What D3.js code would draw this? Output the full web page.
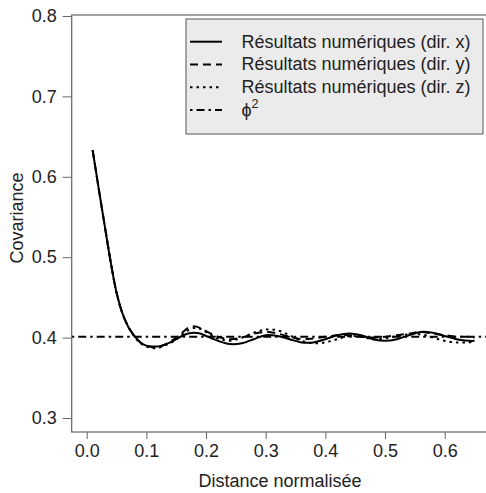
<!DOCTYPE html>
<html>
<head>
<meta charset="utf-8">
<script src="https://cdn.jsdelivr.net/npm/d3@7"></script>
<style>
  body { margin: 0; background: #fff; }
  text { font-family: "Liberation Sans", Arial, sans-serif; fill: #222; }
</style>
</head>
<body>
<div id="chart"></div>
<script>
const W = 486, H = 493

const SVG = d3.select("#chart")
    .append("svg")
    .attr("width", W)
    .attr("height", H)

// plot region (right edge runs off the picture)
const BOX = {left: 71.7, top: 15, bottom: 432, right: 510}

// shared abscissa
const dist = [0.01, 0.02, 0.03, 0.04, 0.05, 0.06, 0.07, 0.08, 0.09, 0.10,
    0.11, 0.12, 0.13, 0.14, 0.15, 0.16, 0.17, 0.18, 0.19, 0.20,
    0.22, 0.24, 0.26, 0.28, 0.30, 0.32, 0.34, 0.36, 0.38, 0.40,
    0.42, 0.44, 0.46, 0.48, 0.50, 0.52, 0.54, 0.56, 0.58, 0.60,
    0.62, 0.64, 0.65]

const covX = [0.633, 0.586, 0.540, 0.495, 0.456, 0.430, 0.413, 0.402, 0.394, 0.390,
    0.389, 0.389, 0.391, 0.394, 0.398, 0.402, 0.405, 0.406, 0.405, 0.402,
    0.396, 0.392, 0.393, 0.398, 0.403, 0.402, 0.398, 0.394, 0.394, 0.398,
    0.403, 0.405, 0.403, 0.398, 0.396, 0.398, 0.403, 0.407, 0.406, 0.402,
    0.398, 0.396, 0.396]

const covY = [0.633, 0.586, 0.540, 0.495, 0.456, 0.430, 0.413, 0.402, 0.394, 0.390,
    0.388, 0.388, 0.391, 0.395, 0.400, 0.406, 0.412, 0.414, 0.412, 0.408,
    0.401, 0.398, 0.400, 0.405, 0.407, 0.405, 0.401, 0.398, 0.399, 0.401,
    0.403, 0.403, 0.401, 0.400, 0.401, 0.403, 0.405, 0.407, 0.405, 0.403,
    0.401, 0.401, 0.400]

const covZ = [0.633, 0.586, 0.540, 0.495, 0.456, 0.430, 0.413, 0.401, 0.393, 0.389,
    0.387, 0.387, 0.390, 0.393, 0.398, 0.404, 0.409, 0.412, 0.411, 0.407,
    0.399, 0.396, 0.400, 0.406, 0.410, 0.409, 0.403, 0.396, 0.393, 0.394,
    0.398, 0.402, 0.401, 0.398, 0.399, 0.402, 0.404, 0.404, 0.400, 0.396,
    0.394, 0.394, 0.395]

const phi2 = 0.401

const xTicks = [0, 0.1, 0.2, 0.3, 0.4, 0.5, 0.6]
const yTicks = [0.3, 0.4, 0.5, 0.6, 0.7, 0.8]

const legendLabels = ["Résultats numériques (dir. x)", "Résultats numériques (dir. y)",
    "Résultats numériques (dir. z)", "\u03D5"]

const dashes = ["none", "8,5", "2.5,4", "2.5,4,8,4"]

const xScale = d3.scaleLinear()
    .domain([0, 0.6])
    .range([86.7, 444.7])

const yScale = d3.scaleLinear()
    .domain([0.3, 0.8])
    .range([418, 16])

const FS = 18

// axes
const yAxis = d3.axisLeft(yScale).tickValues(yTicks).tickSize(9).tickPadding(6)
    .tickFormat(d3.format(".1f"))
const xAxis = d3.axisBottom(xScale).tickValues(xTicks).tickSize(7).tickPadding(5)
    .tickFormat(d3.format(".1f"))

const gy = SVG.append("g")
    .attr("transform", `translate(${BOX.left}, 0)`)
    .call(yAxis)
gy.select(".domain").remove()

const gx = SVG.append("g")
    .attr("transform", `translate(0, ${BOX.bottom})`)
    .call(xAxis)
gx.select(".domain").remove()

SVG.selectAll(".tick line").attr("stroke", "#666")
SVG.selectAll(".tick text")
    .attr("font-size", FS)
    .attr("font-family", "Liberation Sans, Arial, sans-serif")
    .attr("fill", "#222")

// clip for the data
SVG.append("clipPath").attr("id", "plotclip")
    .append("rect")
    .attr("x", BOX.left)
    .attr("y", BOX.top)
    .attr("width", BOX.right - BOX.left)
    .attr("height", BOX.bottom - BOX.top)

const plot = SVG.append("g").attr("clip-path", "url(#plotclip)")

// phi^2 reference line
plot.append("line")
    .attr("x1", BOX.left)
    .attr("x2", BOX.right)
    .attr("y1", yScale(phi2))
    .attr("y2", yScale(phi2))
    .attr("stroke", "black")
    .attr("stroke-width", 2)
    .attr("stroke-dasharray", dashes[3])

const line = d3.line()
    .x((d, i) => xScale(dist[i]))
    .y(d => yScale(d))
    .curve(d3.curveCatmullRom)

const series = [covX, covY, covZ]
series.forEach((s, i) => {
    plot.append("path")
        .attr("d", line(s))
        .attr("fill", "none")
        .attr("stroke", "black")
        .attr("stroke-width", 2)
        .attr("stroke-dasharray", dashes[i])
})

// box
SVG.append("rect")
    .attr("x", BOX.left)
    .attr("y", BOX.top)
    .attr("width", BOX.right - BOX.left)
    .attr("height", BOX.bottom - BOX.top)
    .attr("fill", "none")
    .attr("stroke", "#666")
    .attr("stroke-width", 1.2)

// axis titles
SVG.append("text")
    .attr("x", 280)
    .attr("y", 487)
    .attr("text-anchor", "middle")
    .attr("font-size", FS)
    .text("Distance normalisée")

SVG.append("text")
    .attr("transform", "translate(23, 218) rotate(-90)")
    .attr("text-anchor", "middle")
    .attr("font-size", FS)
    .text("Covariance")

// legend
const leg = SVG.append("g")
leg.append("rect")
    .attr("x", 186)
    .attr("y", 19)
    .attr("width", 297)
    .attr("height", 115)
    .attr("fill", "#ebebeb")
    .attr("stroke", "#555")
    .attr("stroke-width", 1)

const rowY = d3.scaleLinear().domain([0, 3]).range([41.7, 110])

legendLabels.forEach((lab, i) => {
    leg.append("line")
        .attr("x1", 190)
        .attr("x2", 222)
        .attr("y1", rowY(i))
        .attr("y2", rowY(i))
        .attr("stroke", "black")
        .attr("stroke-width", 2)
        .attr("stroke-dasharray", dashes[i])
    const t = leg.append("text")
        .attr("x", 241.5)
        .attr("y", rowY(i) + 6)
        .attr("font-size", FS)
        .text(lab)
    if (i === 3) {
        t.append("tspan")
            .attr("font-size", FS * 0.7)
            .attr("dy", -8)
            .text("2")
    }
})
</script>
</body>
</html>
